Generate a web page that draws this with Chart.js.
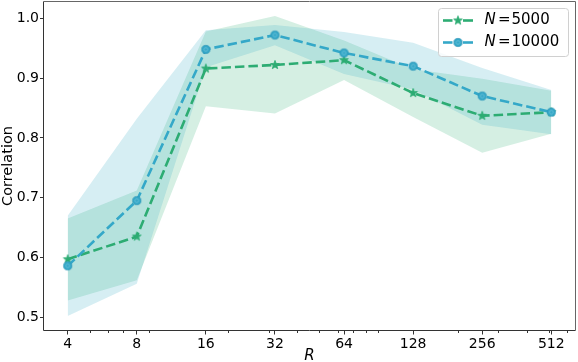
<!DOCTYPE html>
<html><head><meta charset="utf-8">
<script src="https://cdn.jsdelivr.net/npm/chart.js@4.4.1/dist/chart.umd.min.js"></script>
<style>html,body{margin:0;padding:0;background:#fff}#wrap{width:578px;height:362px;position:relative}canvas{display:block}</style>
</head><body><div id="wrap"><canvas id="c" width="578" height="362"></canvas></div>
<script>
// ---- data ----
const R = [4, 8, 16, 32, 64, 128, 256, 512];
const mean5000  = [0.597, 0.635, 0.916, 0.922, 0.930, 0.875, 0.837, 0.843];
const lower5000 = [0.528, 0.562, 0.853, 0.841, 0.897, 0.835, 0.775, 0.807];
const upper5000 = [0.665, 0.712, 0.978, 1.004, 0.963, 0.915, 0.899, 0.879];
const mean10000  = [0.586, 0.695, 0.948, 0.972, 0.942, 0.920, 0.870, 0.843];
const lower10000 = [0.502, 0.556, 0.918, 0.955, 0.907, 0.881, 0.822, 0.806];
const upper10000 = [0.670, 0.832, 0.980, 0.989, 0.977, 0.959, 0.917, 0.880];
const yTicks = [0.5, 0.6, 0.7, 0.8, 0.9, 1.0];
const xTicks = R;
const minorXTicks = [5, 6, 7, 9, 20, 30, 40, 50, 60, 70, 80, 90, 200, 300, 400, 500, 600];
const seriesLabels = ['N = 5000', 'N = 10000'];
const xTitle = 'R';
const yTitle = 'Correlation';

// ---- styles ----
const GREEN = 'rgb(45,172,115)';
const GREEN_FILL = 'rgba(45,175,115,0.2)';
const BLUE = 'rgb(52,168,200)';
const BLUE_FILL = 'rgba(50,170,195,0.2)';
const FONT = '"DejaVu Sans", sans-serif';

function pts(arr){ return R.map((r,i)=>({x:r, y:arr[i]})); }

function starCanvas(color, r){
  const s = Math.ceil(r*2+4), c = document.createElement('canvas');
  c.width = c.height = s;
  const g = c.getContext('2d'), cx = s/2, cy = s/2, ri = r*0.42;
  g.beginPath();
  for(let k=0;k<10;k++){
    const ang = -Math.PI/2 + k*Math.PI/5, rr = k%2===0 ? r : ri;
    const px = cx + rr*Math.cos(ang), py = cy + rr*Math.sin(ang);
    k===0 ? g.moveTo(px,py) : g.lineTo(px,py);
  }
  g.closePath(); g.fillStyle = color; g.fill();
  g.lineWidth = 0.8; g.strokeStyle = color; g.stroke();
  return c;
}
function circleCanvas(color, r){
  const s = Math.ceil(r*2+4), c = document.createElement('canvas');
  c.width = c.height = s;
  const g = c.getContext('2d'), cx = s/2, cy = s/2;
  g.beginPath(); g.arc(cx,cy,r,0,Math.PI*2); g.fillStyle = color; g.fill();
  g.lineWidth = 0.8; g.strokeStyle = 'rgb(45,150,185)'; g.stroke();
  g.beginPath(); g.arc(cx,cy,r*0.45,0,Math.PI*2); g.lineWidth = 0.7; g.strokeStyle = 'rgba(255,255,255,0.3)'; g.stroke();
  return c;
}
const starImg = starCanvas(GREEN, 4.6);
const circImg = circleCanvas(BLUE, 4.1);

const extras = {
  id: 'extras',
  afterDraw(chart){
    const {ctx, chartArea: a, scales: {x}} = chart;
    ctx.save();
    // minor ticks
    ctx.strokeStyle = '#333'; ctx.lineWidth = 1;
    minorXTicks.forEach(v => {
      const px = Math.round(x.getPixelForValue(v)) + 0.5;
      ctx.beginPath(); ctx.moveTo(px, a.bottom); ctx.lineTo(px, a.bottom + 2.5); ctx.stroke();
    });
    // spines
    ctx.strokeStyle = '#333';
    ctx.beginPath();
    ctx.moveTo(a.left, a.top); ctx.lineTo(a.left, a.bottom); ctx.lineTo(a.right, a.bottom);
    ctx.stroke();
    ctx.strokeStyle = '#666';
    ctx.beginPath();
    ctx.moveTo(a.left, a.top); ctx.lineTo(a.right, a.top); ctx.lineTo(a.right, a.bottom);
    ctx.stroke();
    // legend
    const bx = 438.5, by = 8.5, bw = 130, bh = 48, rad = 3;
    ctx.beginPath();
    ctx.moveTo(bx+rad, by); ctx.lineTo(bx+bw-rad, by); ctx.arcTo(bx+bw, by, bx+bw, by+rad, rad);
    ctx.lineTo(bx+bw, by+bh-rad); ctx.arcTo(bx+bw, by+bh, bx+bw-rad, by+bh, rad);
    ctx.lineTo(bx+rad, by+bh); ctx.arcTo(bx, by+bh, bx, by+bh-rad, rad);
    ctx.lineTo(bx, by+rad); ctx.arcTo(bx, by, bx+rad, by, rad);
    ctx.closePath();
    ctx.fillStyle = 'rgba(255,255,255,0.8)'; ctx.fill();
    ctx.strokeStyle = '#d0d0d0'; ctx.lineWidth = 1; ctx.stroke();
    const rows = [
      {y: 20.5, color: GREEN, img: starImg, label: seriesLabels[0]},
      {y: 42.5, color: BLUE, img: circImg, label: seriesLabels[1]}
    ];
    rows.forEach(rw => {
      ctx.strokeStyle = rw.color; ctx.lineWidth = 2.6; ctx.setLineDash([]);
      ctx.beginPath(); ctx.moveTo(443, rw.y); ctx.lineTo(452.5, rw.y); ctx.stroke();
      ctx.beginPath(); ctx.moveTo(463, rw.y); ctx.lineTo(473, rw.y); ctx.stroke();
      ctx.drawImage(rw.img, 458 - rw.img.width/2, rw.y - rw.img.height/2);
      const parts = rw.label.split(' = ');
      ctx.fillStyle = '#000'; ctx.textBaseline = 'middle'; ctx.textAlign = 'left';
      ctx.font = 'italic 15px ' + FONT;
      ctx.fillText(parts[0], 484.5, rw.y);
      ctx.font = '15px ' + FONT;
      ctx.fillText('=', 498, rw.y);
      ctx.fillText(parts[1], 511.5, rw.y);
    });
    ctx.restore();
  }
};

function noPad(s){ s.paddingLeft = 0; s.paddingRight = 0; s.paddingTop = 0; s.paddingBottom = 0; }

new Chart(document.getElementById('c'), {
  type: 'line',
  data: {
    datasets: [
      {label: 'upper5000', data: pts(upper5000), borderWidth: 0, pointRadius: 0, fill: false, order: 3},
      {label: 'lower5000', data: pts(lower5000), borderWidth: 0, pointRadius: 0, fill: '-1', backgroundColor: GREEN_FILL, order: 3},
      {label: 'upper10000', data: pts(upper10000), borderWidth: 0, pointRadius: 0, fill: false, order: 2},
      {label: 'lower10000', data: pts(lower10000), borderWidth: 0, pointRadius: 0, fill: '-1', backgroundColor: BLUE_FILL, order: 2},
      {label: seriesLabels[0], data: pts(mean5000), borderColor: GREEN, borderWidth: 2.6, borderDash: [9.5, 4],
       pointStyle: starImg, pointRadius: 5, fill: false, order: 1},
      {label: seriesLabels[1], data: pts(mean10000), borderColor: BLUE, borderWidth: 2.6, borderDash: [9.5, 4],
       pointStyle: circImg, pointRadius: 5, fill: false, order: 0}
    ]
  },
  options: {
    responsive: false, animation: false, devicePixelRatio: 1,
    layout: {autoPadding: false, padding: {left: 0, right: 2.5, top: 1.5, bottom: 0}},
    plugins: {legend: {display: false}, tooltip: {enabled: false}},
    events: [],
    elements: {line: {tension: 0}},
    scales: {
      x: {
        type: 'logarithmic', min: 3.138, max: 652.7,
        afterBuildTicks: s => { s.ticks = xTicks.map(v => ({value: v})); },
        afterFit: s => { s.height = 31.5; noPad(s); },
        ticks: {callback: v => String(v), autoSkip: false, maxRotation: 0, padding: 1, color: '#000', font: {family: FONT, size: 14}},
        grid: {display: true, drawOnChartArea: false, drawTicks: true, tickLength: 4, tickColor: '#333'},
        border: {display: false},
        title: {display: true, text: xTitle, color: '#000', font: {family: FONT, size: 15, style: 'italic', lineHeight: 1}, padding: {top: 0, bottom: -2}}
      },
      y: {
        type: 'linear', min: 0.4779, max: 1.0281,
        afterBuildTicks: s => { s.ticks = yTicks.map(v => ({value: v})); },
        afterFit: s => { s.width = 43.5; noPad(s); },
        ticks: {callback: v => v.toFixed(1), padding: 1, color: '#000', font: {family: FONT, size: 14}},
        grid: {display: true, drawOnChartArea: false, drawTicks: true, tickLength: 3.5, tickColor: '#333'},
        border: {display: false},
        title: {display: true, text: yTitle, color: '#000', font: {family: FONT, size: 14.5, lineHeight: 1}, padding: {top: 0.5, bottom: 0}}
      }
    }
  },
  plugins: [extras]
});
</script></body></html>
